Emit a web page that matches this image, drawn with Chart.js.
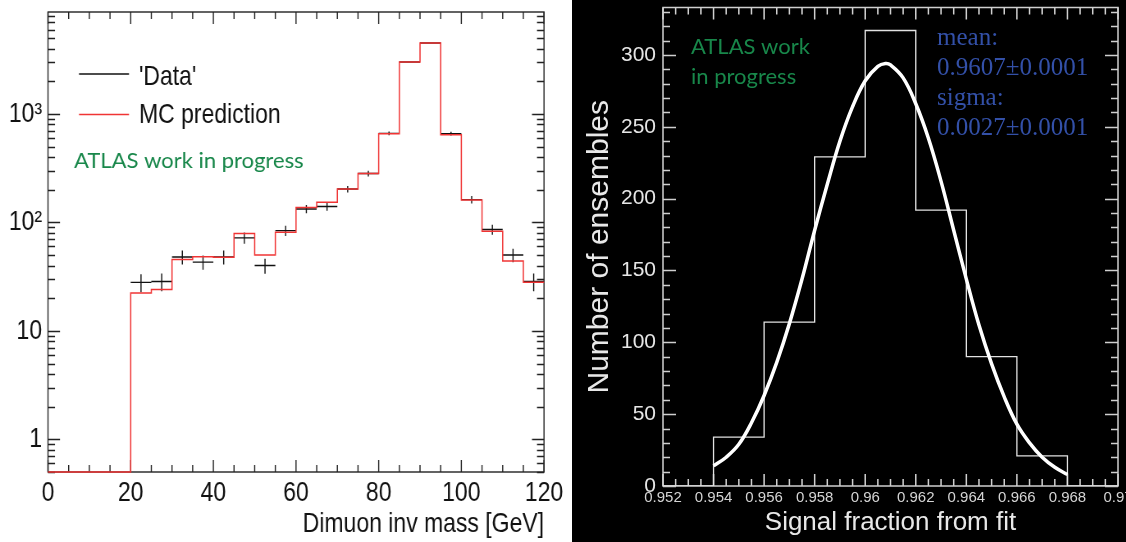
<!DOCTYPE html>
<html>
<head>
<meta charset="utf-8">
<script src="https://cdn.jsdelivr.net/npm/chart.js@4.4.1/dist/chart.umd.min.js"></script>
<style>
  html, body { margin: 0; padding: 0; background: #fff; }
  body { width: 1126px; height: 542px; position: relative; overflow: hidden; }
  #massChart { position: absolute; left: 0; top: 0; }
  #fitChart { position: absolute; left: 572px; top: 0; background: #000; }
</style>
</head>
<body>
<!-- the left plot is drawn wider and squeezed back, to get the narrow ROOT lettering -->
<canvas id="massChart" width="690" height="542" style="width:566px;height:542px"></canvas>
<canvas id="fitChart" width="554" height="542"></canvas>
<script>
// left panel: dimuon invariant mass, 5 GeV bins
const massEdges = [0, 5, 10, 15, 20, 25, 30, 35, 40, 45, 50, 55, 60, 65, 70, 75, 80, 85, 90, 95, 100, 105, 110, 115, 120]
const mcPrediction = [0, 0, 0, 0, 22.3, 24.1, 45.6, 48.3, 47.6, 79, 50, 81, 137, 153, 203, 282, 658, 3010, 4500, 643, 161, 83, 44, 28]
const dataCounts = [null, null, null, null, 28, 28.5, 48, 43, 48, 72, 40, 84, 133, 140, 203, 282, 662, 3010, 4500, 658, 162, 86, 50, 28.5]
const dataErrors = [null, null, null, null, 5.3, 5.3, 7, 6.5, 7, 8.5, 6.3, 9, 11.5, 12, 14, 17, 26, 55, 67, 26, 13, 9, 7, 5.3]
const massTickLabels = [0, 20, 40, 60, 80, 100, 120]
const logTickLabels = {1: "1", 10: "10", 100: "10²", 1000: "10³"}

// right panel: signal fraction from fit, ensemble histogram + gaussian fit
const fracEdges = [0.952, 0.954, 0.956, 0.958, 0.960, 0.962, 0.964, 0.966, 0.968, 0.970]
const ensembleCounts = [0, 34, 114, 229, 317, 192, 90, 21, 0]
const fitX = [0.954, 0.9545, 0.955, 0.9555, 0.956, 0.9565, 0.957, 0.9575, 0.958, 0.9585, 0.959, 0.9595, 0.96, 0.9605, 0.9608, 0.961, 0.9615, 0.962, 0.9625, 0.963, 0.9635, 0.964, 0.9645, 0.965, 0.9655, 0.966, 0.9665, 0.967, 0.9675, 0.968]
const fitY = [14, 20, 29, 44, 63, 86, 113, 144, 178, 210, 240, 264, 282, 292, 294, 293, 284, 266, 242, 212, 178, 144, 112, 85, 62, 43, 30, 20, 13, 8]
const fitText = ["mean:", "0.9607±0.0001", "sigma:", "0.0027±0.0001"]

const SQ = 566 / 690   // horizontal squeeze of the left canvas
const SANS = "'Liberation Sans', Arial, sans-serif"
const RED = "#f03434"
const GREEN = "#18874a"
const Y_MIN = 0.5
const Y_MAX = 8700

function histPoints(edges, counts, floor) {
  let points = []
  edges.forEach((x, i) => {
    let v = counts[Math.min(i, counts.length - 1)]
    points.push({x: x, y: v > 0 ? v : floor})
  })
  return points
}

function crossPoints(edges, counts, errors) {
  let points = []
  counts.forEach((v, i) => {
    if (v == null) return
    let lo = edges[i]
    let hi = edges[i + 1]
    let mid = (lo + hi) / 2
    points.push({x: lo, y: v}, {x: hi, y: v}, {x: hi, y: null})
    points.push({x: mid, y: v - errors[i]}, {x: mid, y: v + errors[i]}, {x: mid, y: null})
  })
  return points
}

function frameTicks(style) {
  return {
    id: "frameTicks",
    beforeDatasetsDraw(chart) {
      const {ctx, chartArea: a, scales} = chart
      const hx = style.hx || 1
      ctx.save()
      ctx.strokeStyle = style.color
      ctx.lineWidth = style.lineWidth
      ctx.beginPath()
      style.xTicks.forEach(([v, len]) => {
        let px = scales.x.getPixelForValue(v)
        ctx.moveTo(px, a.bottom)
        ctx.lineTo(px, a.bottom - len)
        ctx.moveTo(px, a.top)
        ctx.lineTo(px, a.top + len)
      })
      style.yTicks.forEach(([v, len]) => {
        let py = Math.round(scales.y.getPixelForValue(v)) + 0.5
        ctx.moveTo(a.left, py)
        ctx.lineTo(a.left + len * hx, py)
        ctx.moveTo(a.right, py)
        ctx.lineTo(a.right - len * hx, py)
      })
      ctx.stroke()
      ctx.strokeRect(a.left, a.top, a.right - a.left, a.bottom - a.top)
      ctx.restore()
    }
  }
}

function massTicks() {
  let xTicks = []
  for (let i = 0; i <= 24; i++) {
    xTicks.push([i * 5, i % 4 == 0 ? 12 : 7])
  }
  let yTicks = []
  ;[0.1, 1, 10, 100, 1000].forEach(decade => {
    for (let m = 1; m <= 9; m++) {
      let v = m * decade
      if (v >= Y_MIN && v <= Y_MAX) yTicks.push([v, m == 1 ? 12 : 7])
    }
  })
  return {xTicks, yTicks}
}

function fracTicks() {
  let xTicks = []
  for (let i = 0; i <= 36; i++) {
    xTicks.push([0.952 + i * 0.0005, i % 4 == 0 ? 12 : 7])
  }
  let yTicks = []
  for (let i = 0; i <= 33; i++) {
    yTicks.push([i * 10, i % 5 == 0 ? 13 : 7])
  }
  return {xTicks, yTicks}
}

function createMassChart() {
  let ctx = document.getElementById("massChart")
  let ticks = massTicks()
  let massLegend = {
    id: "massLegend",
    afterDraw(chart) {
      const c = chart.ctx
      c.save()
      c.lineWidth = 1.5
      c.strokeStyle = "#111"
      c.beginPath()
      c.moveTo(79 / SQ, 74)
      c.lineTo(129 / SQ, 74)
      c.stroke()
      c.strokeStyle = RED
      c.beginPath()
      c.moveTo(79 / SQ, 114.5)
      c.lineTo(129 / SQ, 114.5)
      c.stroke()
      c.fillStyle = "#111"
      c.textBaseline = "alphabetic"
      c.font = "28px " + SANS
      c.fillText("'Data'", 139 / SQ, 85)
      c.fillText("MC prediction", 139 / SQ, 123)
      // ATLAS label is not narrow: undo the squeeze
      c.translate(74 / SQ, 168)
      c.scale(1 / SQ, 1)
      c.fillStyle = GREEN
      c.font = "22px Lato"
      c.fillText("ATLAS work in progress", 0, 0)
      c.restore()
    }
  }
  return new Chart(ctx, {
    type: "line",
    data: {
      datasets: [
        {
          label: "MC prediction",
          data: histPoints(massEdges, mcPrediction, Y_MIN),
          stepped: true,
          borderColor: RED,
          borderWidth: 1.5,
          pointRadius: 0,
          fill: false,
          clip: 4
        },
        {
          label: "'Data'",
          data: crossPoints(massEdges, dataCounts, dataErrors),
          borderColor: "#111",
          borderWidth: 1.4,
          pointRadius: 0,
          spanGaps: false,
          fill: false
        }
      ]
    },
    options: {
      responsive: false,
      animation: false,
      layout: {padding: {top: 12, right: 690 - 544 / SQ, left: 0, bottom: 0}},
      plugins: {legend: {display: false}, tooltip: {enabled: false}},
      scales: {
        x: {
          type: "linear",
          min: 0,
          max: 120,
          grid: {display: false, drawTicks: false},
          border: {display: false},
          ticks: {
            stepSize: 20,
            autoSkip: false,
            maxRotation: 0,
            padding: 4,
            color: "#111",
            font: {family: SANS, size: 28},
            callback: v => massTickLabels.includes(v) ? String(v) : ""
          },
          title: {
            display: true,
            text: "Dimuon inv mass [GeV]",
            align: "end",
            color: "#111",
            font: {family: SANS, size: 28},
            padding: {top: 0, bottom: 1}
          },
          afterFit: s => { s.height = 70; s.paddingLeft = 0; s.paddingRight = 0 }
        },
        y: {
          type: "logarithmic",
          min: Y_MIN,
          max: Y_MAX,
          grid: {display: false, drawTicks: false},
          border: {display: false},
          ticks: {
            autoSkip: false,
            padding: 6 / SQ,
            color: "#111",
            font: {family: SANS, size: 28},
            callback: v => logTickLabels[v] || ""
          },
          afterFit: s => { s.width = 48 / SQ; s.paddingTop = 0; s.paddingBottom = 0 }
        }
      }
    },
    plugins: [frameTicks({color: "#222", lineWidth: 1.4, hx: 1 / SQ, xTicks: ticks.xTicks, yTicks: ticks.yTicks}), massLegend]
  })
}

function createFitChart() {
  let ctx = document.getElementById("fitChart")
  let ticks = fracTicks()
  let fitLabels = {
    id: "fitLabels",
    afterDraw(chart) {
      const c = chart.ctx
      c.save()
      c.textBaseline = "alphabetic"
      c.fillStyle = GREEN
      c.font = "22px Lato"
      c.fillText("ATLAS work", 119, 54)
      c.fillText("in progress", 119, 84)
      c.fillStyle = "#3350a8"
      c.font = "25px 'Liberation Serif', serif"
      let baselines = [45, 74.5, 105, 135]
      fitText.forEach((t, i) => c.fillText(t, 365, baselines[i]))
      c.restore()
    }
  }
  return new Chart(ctx, {
    type: "line",
    data: {
      datasets: [
        {
          label: "fit",
          data: fitX.map((x, i) => ({x: x, y: fitY[i]})),
          borderColor: "#fff",
          borderWidth: 3.5,
          pointRadius: 0,
          tension: 0.4,
          fill: false
        },
        {
          label: "ensembles",
          data: histPoints(fracEdges, ensembleCounts, 0),
          stepped: true,
          borderColor: "#e2e2e2",
          borderWidth: 1.3,
          pointRadius: 0,
          fill: false
        }
      ]
    },
    options: {
      responsive: false,
      animation: false,
      layout: {padding: {top: 7.5, right: 8, left: 0, bottom: 0}},
      plugins: {legend: {display: false}, tooltip: {enabled: false}},
      scales: {
        x: {
          type: "linear",
          min: 0.952,
          max: 0.970,
          grid: {display: false, drawTicks: false},
          border: {display: false},
          ticks: {
            stepSize: 0.002,
            autoSkip: false,
            maxRotation: 0,
            padding: 3,
            color: "#d4d4d4",
            font: {family: SANS, size: 15},
            callback: v => String(+v.toFixed(3))
          },
          title: {
            display: true,
            text: "Signal fraction from fit",
            color: "#e8e8e8",
            font: {family: SANS, size: 26},
            padding: {top: 0, bottom: 4}
          },
          afterFit: s => { s.height = 56; s.paddingLeft = 0; s.paddingRight = 0 }
        },
        y: {
          type: "linear",
          min: 0,
          max: 333,
          grid: {display: false, drawTicks: false},
          border: {display: false},
          ticks: {
            stepSize: 50,
            includeBounds: false,
            padding: 7,
            color: "#e6e6e6",
            font: {family: SANS, size: 21}
          },
          title: {
            display: true,
            text: "Number of ensembles",
            color: "#e8e8e8",
            font: {family: SANS, size: 30},
            padding: {top: 10, bottom: 0}
          },
          afterFit: s => { s.width = 91; s.paddingTop = 0; s.paddingBottom = 0 }
        }
      }
    },
    plugins: [frameTicks({color: "#cfcfcf", lineWidth: 1.5, xTicks: ticks.xTicks, yTicks: ticks.yTicks}), fitLabels]
  })
}

let mass_chart = createMassChart()
let fit_chart = createFitChart()
</script>
</body>
</html>
